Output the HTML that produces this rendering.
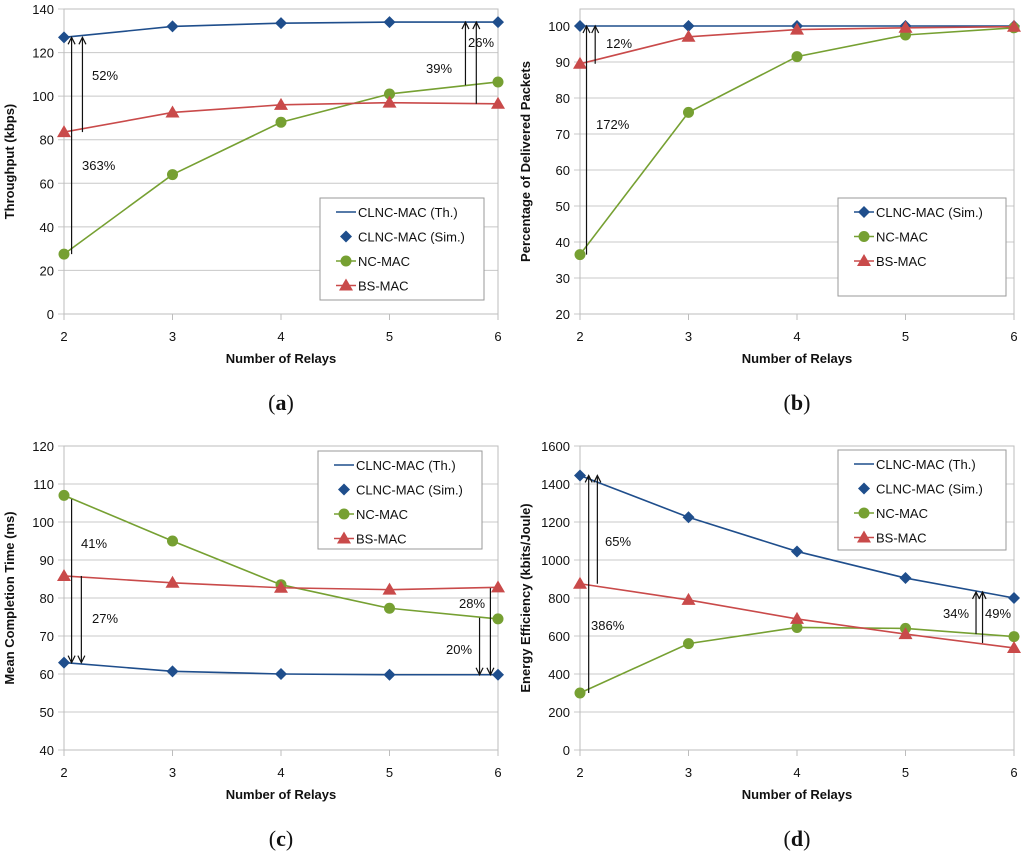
<!DOCTYPE html>
<html><head><meta charset="utf-8"><style>
body{margin:0;background:#fff;width:1024px;height:854px;overflow:hidden;font-family:"Liberation Sans",sans-serif}
svg{position:absolute;left:0;top:0}
</style></head><body>
<svg id="s" width="1024" height="854" xmlns="http://www.w3.org/2000/svg"></svg>
<script>
const relays=[2,3,4,5,6];
const aTh=[127,132,133.5,134,134];
const aNC=[27.5,64,88,101,106.5];
const aBS=[83.5,92.5,96,97,96.5];
const bSim=[100,100,100,100,100];
const bNC=[36.5,76,91.5,97.5,99.5];
const bBS=[89.5,97,99,99.5,99.8];
const cTh=[63,60.7,60,59.8,59.8];
const cNC=[107,95,83.5,77.3,74.5];
const cBS=[85.8,84,82.7,82.2,82.8];
const dTh=[1445,1225,1045,905,800];
const dNC=[300,560,645,640,597];
const dBS=[875,790,690,610,537];
const aTicks=[0,20,40,60,80,100,120,140];
const bTicks=[20,30,40,50,60,70,80,90,100];
const cTicks=[40,50,60,70,80,90,100,110,120];
const dTicks=[0,200,400,600,800,1000,1200,1400,1600];

const NS="http://www.w3.org/2000/svg";
const S=document.getElementById('s');
function el(t,a,p){const e=document.createElementNS(NS,t);for(const k in a)e.setAttribute(k,a[k]);(p||S).appendChild(e);return e;}
function txt(x,y,s,a,p){const e=el('text',Object.assign({x:x,y:y,'font-size':13,fill:'#111'},a||{}),p);e.textContent=s;return e;}
const BLUE='#1f4e8c',GREEN='#76a032',RED='#c94a4a';
function marker(g,kind,x,y,col){
  let m;
  if(kind==='d')m=el('polygon',{points:`${x},${y-6} ${x+6},${y} ${x},${y+6} ${x-6},${y}`,fill:col},g);
  else if(kind==='c')m=el('circle',{cx:x,cy:y,r:5.5,fill:col},g);
  else m=el('polygon',{points:`${x},${y-7} ${x+7},${y+5} ${x-7},${y+5}`,fill:col},g);
  return m;
}
function panel(P){
  const g=el('g',{});
  
  
  const X0=P.x0,X1=P.x1,xs=v=>X0+(v-2)/(4)*(X1-X0);
  const ys=v=>P.yb+(v-P.ymin)/(P.ymax-P.ymin)*(P.yt-P.yb);
  P.ticks.forEach(t=>{const y=ys(t);
    const l=el('line',{x1:X0-6,x2:X1,y1:y,y2:y,stroke:'#c8c8c8','stroke-width':1},g);
    
    const tl=txt(X0-10,y+5,String(t),{'text-anchor':'end','font-size':13},g);
    
  });
  el('rect',{x:X0,y:P.top,width:X1-X0,height:P.yb-P.top,fill:'none',stroke:'#bdbdbd','stroke-width':1},g);
  relays.forEach(r=>{const x=xs(r);
    el('line',{x1:x,x2:x,y1:P.yb,y2:P.yb+6,stroke:'#bdbdbd'},g);
    const tl=txt(x,P.yb+27,String(r),{'text-anchor':'middle','font-size':13},g);
    
  });
  const xt=txt((X0+X1)/2,P.yb+49,'Number of Relays',{'text-anchor':'middle','font-size':13,'font-weight':'bold'},g);
  
  const yc=(P.top+P.yb)/2;
  const yt=txt(0,0,P.ylabel,{'text-anchor':'middle','font-size':13,'font-weight':'bold',transform:`translate(${X0-50},${yc}) rotate(-90)`},g);
  
  const cap=el('text',{x:(X0+X1)/2,y:P.yb+96,'text-anchor':'middle','font-size':22,'font-family':'Liberation Serif, serif',fill:'#111'},g);
  cap.innerHTML='(<tspan font-weight="bold">'+P.cap+'</tspan>)';
  
  P.series.forEach(s=>{
    const sg=el('g',{},g);
    
    if(s.line){const l=el('polyline',{points:s.v.map((v,i)=>xs(relays[i])+','+ys(v)).join(' '),fill:'none',stroke:s.c,'stroke-width':1.6},sg);
      }
    if(s.m)s.v.forEach((v,i)=>{const m=marker(sg,s.m,xs(relays[i]),ys(v),s.c);
      });
  });
  P.arrows.forEach(a=>{const x=xs(a[0]),y1=ys(a[1]),y2=ys(a[2]);
    const d=y2<y1?1:-1;
    const ag=el('g',{},g);
    el('line',{x1:x,x2:x,y1:y1,y2:y2,stroke:'#111','stroke-width':1.2},ag);
    el('polyline',{points:`${x-3.5},${y2+d*7} ${x},${y2} ${x+3.5},${y2+d*7}`,fill:'none',stroke:'#111','stroke-width':1.2},ag);
  });
  P.labels.forEach(l=>{const t=txt(l[0],l[1],l[2],{'font-size':13},g);
    });
  const L=P.leg;
  const lg=el('g',{},g);
  el('rect',{x:L.x,y:L.y,width:L.w,height:L.h,fill:'#fff',stroke:'#9a9a9a'},lg);
  P.series.forEach((s,i)=>{const cy=L.y+14+i*24.5;const lx=L.x+16;
    const eg=el('g',{},lg);
    if(s.line)el('line',{x1:lx,x2:lx+20,y1:cy,y2:cy,stroke:s.c,'stroke-width':1.6},eg);
    if(s.m)marker(eg,s.m,lx+10,cy,s.c);
    txt(lx+22,cy+5,s.lab,{'font-size':13},eg);
  });
}
panel({name:'panel-a-throughput',cap:'a',x0:64,x1:498,top:9,yt:9,yb:314,ymin:0,ymax:140,ticks:aTicks,ylabel:'Throughput (kbps)',
 series:[{n:'clnc-th',lab:'CLNC-MAC  (Th.)',v:aTh,c:BLUE,line:true},{n:'clnc-sim',lab:'CLNC-MAC (Sim.)',v:aTh,c:BLUE,m:'d'},
 {n:'nc-mac',lab:'NC-MAC',v:aNC,c:GREEN,line:true,m:'c'},{n:'bs-mac',lab:'BS-MAC',v:aBS,c:RED,line:true,m:'t'}],
 arrows:[[2.07,aNC[0],aTh[0]],[2.17,aBS[0],aTh[0]],[5.7,105,aTh[4]],[5.8,96.5,aTh[4]]],
 labels:[[92,80,'52%'],[82,170,'363%'],[426,73,'39%'],[468,47,'26%']],
 leg:{x:320,y:198,w:164,h:102}});
panel({name:'panel-b-delivered',cap:'b',x0:580,x1:1014,top:9,yt:26,yb:314,ymin:20,ymax:100,ticks:bTicks,ylabel:'Percentage of Delivered Packets',
 series:[{n:'clnc-sim',lab:'CLNC-MAC (Sim.)',v:bSim,c:BLUE,line:true,m:'d'},
 {n:'nc-mac',lab:'NC-MAC',v:bNC,c:GREEN,line:true,m:'c'},{n:'bs-mac',lab:'BS-MAC',v:bBS,c:RED,line:true,m:'t'}],
 arrows:[[2.06,bNC[0],100],[2.14,bBS[0],100]],
 labels:[[606,48,'12%'],[596,129,'172%']],
 leg:{x:838,y:198,w:168,h:98}});
panel({name:'panel-c-completion-time',cap:'c',x0:64,x1:498,top:446,yt:446,yb:750,ymin:40,ymax:120,ticks:cTicks,ylabel:'Mean Completion Time (ms)',
 series:[{n:'clnc-th',lab:'CLNC-MAC  (Th.)',v:cTh,c:BLUE,line:true},{n:'clnc-sim',lab:'CLNC-MAC (Sim.)',v:cTh,c:BLUE,m:'d'},
 {n:'nc-mac',lab:'NC-MAC',v:cNC,c:GREEN,line:true,m:'c'},{n:'bs-mac',lab:'BS-MAC',v:cBS,c:RED,line:true,m:'t'}],
 arrows:[[2.07,106,cTh[0]],[2.16,85.8,cTh[0]],[5.83,74.8,59.8],[5.93,82.6,59.8]],
 labels:[[81,548,'41%'],[92,623,'27%'],[459,608,'28%'],[446,654,'20%']],
 leg:{x:318,y:451,w:164,h:98}});
panel({name:'panel-d-energy',cap:'d',x0:580,x1:1014,top:446,yt:446,yb:750,ymin:0,ymax:1600,ticks:dTicks,ylabel:'Energy Efficiency (kbits/Joule)',
 series:[{n:'clnc-th',lab:'CLNC-MAC  (Th.)',v:dTh,c:BLUE,line:true},{n:'clnc-sim',lab:'CLNC-MAC (Sim.)',v:dTh,c:BLUE,m:'d'},
 {n:'nc-mac',lab:'NC-MAC',v:dNC,c:GREEN,line:true,m:'c'},{n:'bs-mac',lab:'BS-MAC',v:dBS,c:RED,line:true,m:'t'}],
 arrows:[[2.08,dNC[0],dTh[0]],[2.16,dBS[0],dTh[0]],[5.65,610,832],[5.71,563,832]],
 labels:[[605,546,'65%'],[591,630,'386%'],[943,618,'34%'],[985,618,'49%']],
 leg:{x:838,y:450,w:168,h:100}});
</script>
</body></html>
